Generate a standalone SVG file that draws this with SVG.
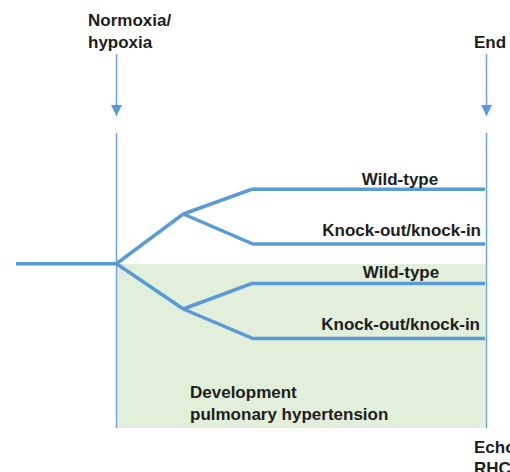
<svg xmlns="http://www.w3.org/2000/svg" width="510" height="472" viewBox="0 0 510 472">
  <style>
    .t { font-family: "Liberation Sans", Arial, sans-serif; font-weight: bold; font-size: 17px; fill: #1e1e1e; }
    .thin { stroke: #6FA5DC; stroke-width: 1.5; fill: none; }
    .thick { stroke: #5B9BD5; stroke-width: 3.5; fill: none; stroke-linejoin: miter; }
  </style>
  <defs>
    <marker id="ah" viewBox="0 0 10 10" refX="10" refY="5" markerWidth="11" markerHeight="11" markerUnits="userSpaceOnUse" orient="auto">
      <path d="M0,0 L10,5 L0,10 Z" fill="#5B9BD5"/>
    </marker>
  </defs>

  <g id="phase-area">
    <rect x="116.5" y="264" width="369" height="164" fill="#E2EFDA"/>
  </g>

  <g id="connectors">
    <line class="thin" x1="116.5" y1="54" x2="116.5" y2="116" marker-end="url(#ah)"/>
    <line class="thin" x1="486.5" y1="54" x2="486.5" y2="116" marker-end="url(#ah)"/>
    <line class="thin" x1="116.5" y1="133" x2="116.5" y2="428"/>
    <line class="thin" x1="486.5" y1="133" x2="486.5" y2="428"/>
    <polyline class="thick" points="16,263.7 116.5,263.7 183.3,214"/>
    <polyline class="thick" points="116.5,263.7 183.3,309"/>
    <polyline class="thick" points="183.3,214 251.7,189.3 485,189.3"/>
    <polyline class="thick" points="183.3,214 253,244 485,244"/>
    <polyline class="thick" points="183.3,309 251.7,283.5 485,283.5"/>
    <polyline class="thick" points="183.3,309 253,338.5 485,338.5"/>
  </g>

  <g id="start-label">
    <text class="t" x="88" y="26">Normoxia/</text>
    <text class="t" x="88" y="47.5">hypoxia</text>
  </g>
  <g id="end-label">
    <text class="t" x="474" y="48">End</text>
  </g>
  <g id="wt-normoxia">
    <text class="t" x="400" y="185" text-anchor="middle">Wild-type</text>
  </g>
  <g id="ko-normoxia">
    <text class="t" x="481" y="236" text-anchor="end">Knock-out/knock-in</text>
  </g>
  <g id="wt-hypoxia">
    <text class="t" x="401" y="277.5" text-anchor="middle">Wild-type</text>
  </g>
  <g id="ko-hypoxia">
    <text class="t" x="480" y="330" text-anchor="end">Knock-out/knock-in</text>
  </g>
  <g id="ph-label">
    <text class="t" x="190" y="397.5">Development</text>
    <text class="t" x="190" y="420">pulmonary hypertension</text>
  </g>
  <g id="readout-label">
    <text class="t" x="474" y="453">Echo</text>
    <text class="t" x="474" y="474">RHC</text>
  </g>
</svg>
